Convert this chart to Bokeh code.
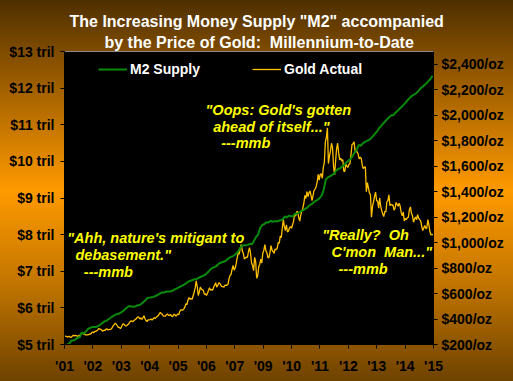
from bokeh.plotting import figure
from bokeh.models import (Range1d, LinearAxis, FixedTicker, Label, Legend,
                          LegendItem, PrintfTickFormatter, Title)
from bokeh.embed import file_html
from bokeh.resources import INLINE

# ---------------- data ----------------
NB = "\u00a0"
title_lines = ['The Increasing Money Supply "M2" accompanied',
               'by the Price of Gold:' + NB + ' Millennium-to-Date']

x_tick_labels = ["'01", "'02", "'03", "'04", "'05", "'06", "'07",
                 "'09", "'10", "'11", "'12", "'13", "'14", "'15"]

m2_ticks = [5, 6, 7, 8, 9, 10, 11, 12, 13]
gold_ticks = [200, 400, 600, 800, 1000, 1200, 1400, 1600, 1800, 2000, 2200, 2400]

# M2 money supply, $ trillions, monthly Jan 2001 .. Dec 2015
m2_supply = [
    4.99, 5.00, 5.04, 5.11, 5.11, 5.15, 5.18, 5.21, 5.33, 5.30, 5.36, 5.43,
    5.45, 5.48, 5.48, 5.48, 5.51, 5.54, 5.59, 5.63, 5.65, 5.69, 5.73, 5.77,
    5.80, 5.83, 5.84, 5.87, 5.91, 5.96, 6.01, 6.05, 6.04, 6.03, 6.04, 6.07,
    6.07, 6.11, 6.16, 6.21, 6.27, 6.28, 6.29, 6.30, 6.33, 6.35, 6.39, 6.42,
    6.42, 6.44, 6.45, 6.45, 6.46, 6.50, 6.52, 6.55, 6.58, 6.61, 6.64, 6.68,
    6.72, 6.74, 6.76, 6.78, 6.79, 6.82, 6.85, 6.87, 6.90, 6.95, 7.00, 7.07,
    7.10, 7.12, 7.16, 7.22, 7.24, 7.26, 7.28, 7.33, 7.37, 7.40, 7.42, 7.47,
    7.52, 7.62, 7.69, 7.71, 7.71, 7.72, 7.75, 7.74, 7.84, 7.94, 8.01, 8.19,
    8.26, 8.29, 8.34, 8.33, 8.38, 8.35, 8.37, 8.36, 8.38, 8.39, 8.42, 8.50,
    8.47, 8.52, 8.50, 8.50, 8.57, 8.58, 8.60, 8.64, 8.67, 8.71, 8.74, 8.80,
    8.83, 8.88, 8.92, 8.95, 9.00, 9.07, 9.24, 9.51, 9.56, 9.59, 9.63, 9.66,
    9.75, 9.79, 9.81, 9.86, 9.91, 9.97, 10.02, 10.06, 10.14, 10.24, 10.32, 10.45,
    10.42, 10.49, 10.53, 10.56, 10.58, 10.63, 10.69, 10.76, 10.82, 10.91, 10.97, 11.04,
    11.09, 11.16, 11.21, 11.26, 11.26, 11.33, 11.38, 11.44, 11.49, 11.55, 11.61, 11.68,
    11.74, 11.79, 11.82, 11.86, 11.91, 11.98, 12.03, 12.08, 12.13, 12.19, 12.25, 12.34,
]

# Gold, $/oz, twice a month Jan 2001 .. Dec 2015
gold_actual = [
    268, 264, 262, 258, 266, 258, 257, 264, 272, 268, 272, 270, 266, 266, 272, 276, 289, 293, 282, 279, 276, 275, 275, 277,
    283, 282, 294, 298, 292, 302, 303, 308, 314, 326, 320, 318, 311, 305, 312, 310, 320, 323, 314, 316, 318, 320, 333, 347,
    356, 367, 360, 347, 335, 334, 325, 337, 355, 364, 355, 346, 346, 355, 360, 375, 383, 385, 378, 386, 393, 398, 408, 416,
    415, 400, 408, 397, 410, 426, 402, 388, 380, 393, 393, 395, 400, 392, 402, 410, 404, 415, 420, 427, 440, 453, 440, 438,
    422, 422, 422, 434, 440, 428, 428, 436, 422, 418, 436, 436, 422, 430, 440, 434, 460, 473, 470, 470, 480, 495, 520, 513,
    550, 568, 555, 560, 555, 583, 610, 644, 700, 655, 585, 613, 650, 635, 630, 623, 593, 599, 585, 603, 625, 646, 625, 632,
    625, 650, 665, 685, 650, 662, 685, 680, 665, 655, 655, 650, 665, 665, 665, 672, 715, 743, 750, 789, 820, 783, 800, 834,
    880, 923, 910, 960, 985, 933, 915, 870, 880, 886, 885, 930, 960, 918, 840, 820, 780, 884, 850, 720, 740, 810, 830, 870,
    840, 919, 940, 985, 935, 920, 880, 883, 925, 976, 940, 930, 915, 950, 945, 955, 1000, 996, 1050, 1040, 1115, 1180, 1125, 1095,
    1140, 1084, 1090, 1116, 1125, 1113, 1140, 1168, 1225, 1207, 1240, 1245, 1195, 1169, 1215, 1246, 1270, 1307, 1370, 1346, 1400, 1360, 1390, 1405,
    1370, 1330, 1370, 1410, 1420, 1439, 1475, 1535, 1490, 1536, 1540, 1505, 1590, 1628, 1790, 1825, 1900, 1620, 1680, 1720, 1780, 1745, 1600, 1531,
    1640, 1740, 1780, 1700, 1650, 1662, 1640, 1651, 1560, 1560, 1615, 1599, 1590, 1615, 1620, 1690, 1770, 1776, 1790, 1720, 1730, 1710, 1695, 1657,
    1670, 1660, 1610, 1580, 1590, 1595, 1400, 1470, 1430, 1390, 1375, 1200, 1285, 1320, 1365, 1396, 1330, 1326, 1270, 1350, 1285, 1250, 1225, 1204,
    1245, 1240, 1320, 1330, 1375, 1290, 1300, 1295, 1295, 1255, 1270, 1315, 1300, 1285, 1310, 1285, 1235, 1210, 1240, 1170, 1190, 1180, 1195, 1200,
    1260, 1280, 1230, 1210, 1160, 1185, 1200, 1180, 1220, 1190, 1180, 1170, 1130, 1095, 1115, 1135, 1110, 1115, 1180, 1140, 1085, 1060, 1065, 1060,
]

# ---------------- geometry ----------------
n_months = len(m2_supply)                    # 180 months, 2001-2015
n_slots = len(x_tick_labels) - 1             # labels evenly spread
scale = n_slots / n_months
m2_x = [(i + 0.5) * scale for i in range(n_months)]
gold_x = [(i + 0.5) * 0.5 * scale for i in range(len(gold_actual))]

FONT = "Liberation Sans"
W, H = 513, 381

p = figure(width=W, height=H, output_backend="svg", toolbar_location=None,
           title=None,
           x_range=Range1d(0, n_slots), y_range=Range1d(5, 13),
           min_border_left=64, min_border_right=80, min_border_top=51,
           min_border_bottom=37, background_fill_color="black",
           border_fill_color=None, outline_line_color="#8a8a8a",
           x_axis_type=None, y_axis_type=None)
p.styles = {"background": "linear-gradient(180deg, #4e2f00 0%, #a86400 25%, #ff9a00 50%, #c07400 75%, #6e4200 100%)"}
p.extra_y_ranges = {"gold": Range1d(200, 2500)}
p.xgrid.visible = False
p.ygrid.visible = False

# title: second line nearest the frame, first line above it
for txt, off in [(title_lines[1], 40), (title_lines[0], 5)]:
    p.add_layout(Title(text=txt, align="left", offset=off, standoff=2,
                       text_font=FONT, text_font_style="bold",
                       text_font_size="16px", text_color="white"), "above")


def style_axis(ax, standoff):
    ax.major_label_text_font = FONT
    ax.major_label_text_font_style = "bold"
    ax.major_label_text_font_size = "14px"
    ax.major_label_text_color = "black"
    ax.axis_line_color = "black"
    ax.major_tick_line_color = "black"
    ax.major_tick_out = 4
    ax.major_tick_in = 0
    ax.minor_tick_line_color = None
    ax.major_label_standoff = standoff


xaxis = LinearAxis(ticker=FixedTicker(ticks=list(range(n_slots + 1))),
                   major_label_overrides={i: lab for i, lab in enumerate(x_tick_labels)})
style_axis(xaxis, 9)
p.add_layout(xaxis, "below")

laxis = LinearAxis(ticker=FixedTicker(ticks=m2_ticks),
                   formatter=PrintfTickFormatter(format="$%d tril"))
style_axis(laxis, 6)
p.add_layout(laxis, "left")

raxis = LinearAxis(y_range_name="gold", ticker=FixedTicker(ticks=gold_ticks),
                   major_label_overrides={v: f"${v:,}/oz" for v in gold_ticks})
style_axis(raxis, 4)
p.add_layout(raxis, "right")

gold_r = p.line(gold_x, gold_actual, y_range_name="gold", line_color="#ffc000", line_width=1.3)
m2_r = p.line(m2_x, m2_supply, line_color="#0a8a0a", line_width=2)

legend = Legend(items=[LegendItem(label="M2 Supply", renderers=[m2_r]),
                       LegendItem(label="Gold Actual", renderers=[gold_r])],
                orientation="horizontal", location=(34, 265), margin=0, padding=0,
                spacing=52, label_standoff=3, glyph_width=29, glyph_height=20,
                label_text_font=FONT, label_text_font_style="bold",
                label_text_font_size="14px", label_text_color="white",
                background_fill_alpha=0, border_line_alpha=0)
p.add_layout(legend)

notes = [
    ("\"Oops: Gold's gotten", 205, 109.5),
    ("ahead of itself...\"", 212.7, 126),
    ("---mmb", 220.7, 142.5),
    ("\"Ahh, nature's mitigant to", 66.7, 237),
    ("debasement.\"", 75, 254),
    ("---mmb", 83.3, 271),
    ("\"Really?" + NB + " Oh", 321.7, 234),
    ("C'mon" + NB + " Man...\"", 331, 251),
    ("---mmb", 338, 268),
]
for txt, x, y in notes:
    p.add_layout(Label(x=x, y=y, x_units="canvas", y_units="canvas", text=txt,
                       text_align="left", text_baseline="alphabetic",
                       text_font=FONT, text_font_style="bold italic",
                       text_font_size="14.5px", text_color="#ffff00"))

open("out.html", "w").write(file_html(p, INLINE))
